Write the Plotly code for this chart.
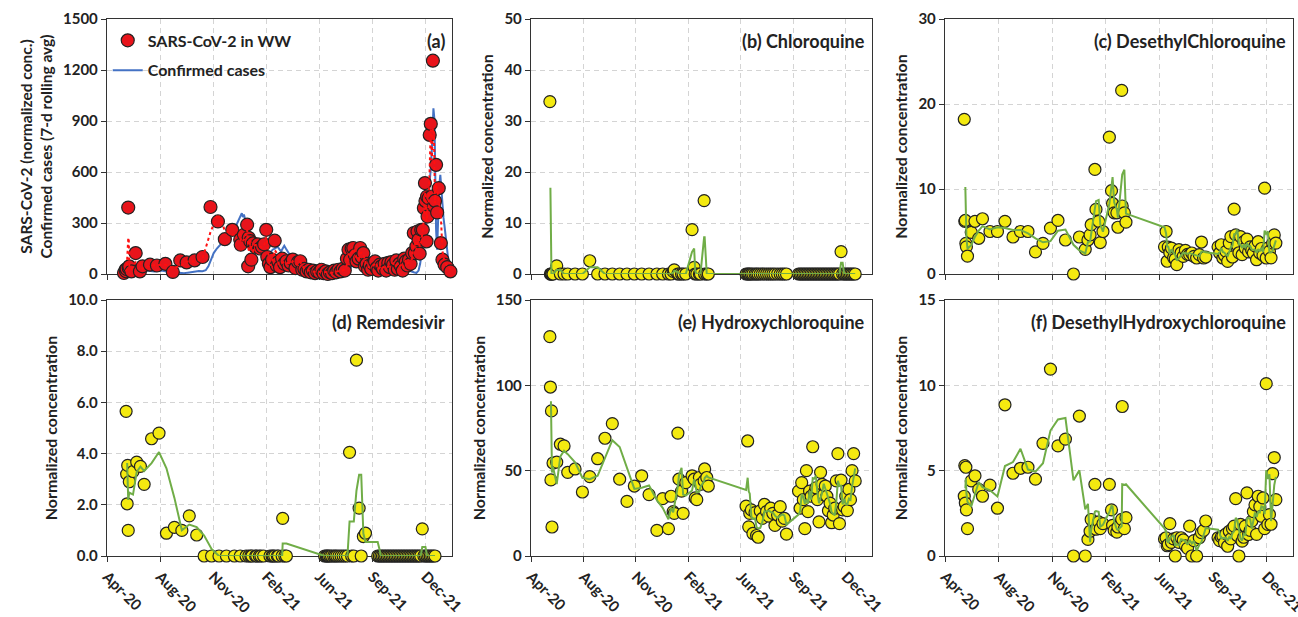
import pandas as pd
import plotly.graph_objects as go

# ---------------- x axis: days counted from the first tick (Apr-20) ----------------
START = "2020-04-28"
AXIS_DAYS = 650
TICK_DAYS = 100

# ---------------- panel (a) ----------------
WW_DAY = [32, 35, 36, 37, 40, 41, 42, 46, 54, 62, 67, 81, 94, 110, 124, 138, 150, 165, 180, 195,
          209, 222, 236, 251, 252, 258, 264, 266, 267, 270, 272, 275, 279, 284, 288, 292, 296, 300, 302, 305,
          308, 311, 316, 320, 323, 326, 330, 334, 338, 342, 346, 350, 355, 360, 364, 368, 372, 376, 380, 384,
          388, 392, 396, 400, 404, 408, 412, 416, 420, 424, 428, 432, 436, 440, 444, 448, 452, 455, 458, 461,
          464, 467, 470, 474, 477, 480, 483, 486, 489, 492, 495, 498, 501, 505, 508, 511, 514, 517, 520, 523,
          526, 530, 533, 536, 539, 542, 545, 548, 551, 554, 557, 560, 563, 566, 569, 572, 575, 578, 580, 583,
          585, 587, 589, 592, 595, 597, 599, 600, 602, 603, 604, 606, 608, 610, 612, 614, 616, 618, 620, 622,
          625, 629, 632, 636, 641, 647]
WW_VAL = [6, 25, 16, 29, 391, 35, 45, 15, 123, 15, 45, 55, 50, 60, 12, 80, 68, 80, 100, 394,
          309, 205, 260, 202, 172, 231, 290, 45, 213, 193, 84, 180, 161, 174, 150, 160, 175, 260, 100, 60,
          40, 85, 196, 50, 70, 40, 90, 60, 75, 50, 65, 85, 35, 70, 75, 25, 30, 15, 25, 10,
          20, 5, 15, 10, 25, 5, 15, 0, 10, 5, 20, 10, 25, 15, 30, 20, 90, 143, 84, 150,
          153, 110, 74, 90, 153, 100, 123, 45, 60, 25, 50, 30, 60, 74, 35, 20, 55, 45, 30, 60,
          20, 65, 40, 70, 55, 25, 80, 30, 60, 45, 20, 90, 74, 50, 84, 60, 123, 241, 123, 163,
          250, 202, 120, 260, 260, 388, 535, 430, 192, 456, 338, 446, 818, 883, 456, 1255, 400, 430, 642, 362,
          505, 182, 84, 55, 40, 15]

CASES_DAY = [34, 40, 47, 54, 61, 68, 75, 82, 89, 96, 103, 110, 117, 124, 131, 138, 145, 152, 159, 166,
             173, 180, 186, 191, 195, 201, 207, 214, 220, 227, 233, 239, 244, 249, 252, 254, 256, 258, 261, 264,
             268, 272, 277, 283, 290, 296, 302, 307, 312, 317, 321, 325, 328, 331, 334, 337, 340, 345, 350, 355,
             359, 365, 372, 380, 390, 397, 410, 420, 428, 440, 454, 457, 460, 466, 472, 479, 485, 491, 496, 501,
             505, 510, 516, 523, 529, 535, 542, 548, 555, 561, 567, 573, 578, 583, 587, 590, 593, 596, 599, 602,
             605, 608, 610, 612, 614, 615, 617, 618, 619, 620, 622, 624, 626, 628, 630, 632, 634, 636, 639, 642,
             645]
CASES_VAL = [10, 15, 20, 15, 18, 22, 20, 16, 15, 18, 20, 16, 14, 10, 8, 5, 4, 8, 12, 15,
             18, 16, 22, 45, 80, 123, 150, 172, 195, 220, 240, 260, 290, 320, 345, 358, 335, 350, 310, 275,
             240, 210, 182, 150, 123, 110, 104, 125, 143, 150, 162, 145, 133, 150, 166, 150, 133, 110, 84, 65,
             55, 45, 35, 25, 18, 16, 8, 4, 2, 4, 6, 20, 45, 84, 92, 94, 100, 104, 95, 88,
             75, 65, 55, 45, 45, 45, 50, 55, 50, 45, 30, 16, 10, 6, 20, 60, 125, 180, 260, 320,
             420, 515, 620, 730, 860, 975, 906, 700, 450, 260, 143, 397, 520, 583, 480, 397, 330, 280, 200, 84,
             25]

# ---------------- panels (b)-(f): shared sampling days ----------------
SAMPLE_DAY = [36, 37, 38, 39, 40, 42, 49, 56, 63, 70, 84, 98, 112, 127, 141, 155, 169, 183, 197, 211, 225, 240,
              251, 262, 267, 271, 273, 280, 282, 287, 290, 295, 307, 311, 313, 316, 321, 323, 330, 331, 335, 338,
              410, 413, 415, 417, 420, 423, 427, 430, 433, 437, 441, 445, 449, 453, 457, 461, 465, 470, 475, 479, 483, 487,
              510, 513, 516, 519, 522, 525, 528, 531, 534, 537, 540, 543, 546, 549, 552, 555, 558, 561, 564, 567,
              570, 573, 576, 579, 582, 585, 588, 591, 594, 597, 600, 603, 606, 609, 612, 615, 618]

CHLOROQUINE = [33.8, 0, 0, 0, 0, 0, 1.6, 0, 0, 0, 0, 0, 2.6, 0, 0, 0, 0, 0, 0, 0, 0, 0,
               0, 0, 0, 0.5, 0.8, 0, 0, 0, 0, 0, 8.7, 1.3, 0, 0, 0, 0, 14.4, 0, 0, 0,
               0, 0, 0, 0, 0, 0, 0, 0, 0, 0, 0, 0, 0, 0, 0, 0, 0, 0, 0, 0, 0, 0,
               0, 0, 0, 0, 0, 0, 0, 0, 0, 0, 0, 0, 0, 0, 0, 0, 0, 0, 0, 0,
               0, 0, 0, 0, 0, 0, 0, 4.4, 0, 0, 0, 0, 0, 0, 0, 0, 0]

DESETHYLCHLOROQUINE = [18.2, 6.2, 6.3, 3.6, 3.2, 2.1, 4.9, 6.2, 4.2, 6.5, 5.0, 5.0, 6.2, 4.35, 5.0, 5.0, 2.6, 3.6, 5.4, 6.3, 4.0, 0,
                       4.35, 2.9, 4.0, 4.6, 5.8, 12.3, 7.6, 6.2, 3.7, 5.0, 16.1, 9.8, 8.3, 7.2, 7.2, 5.5, 21.6, 8.0, 7.2, 6.1,
                       3.2, 5.0, 1.5, 3.17, 2.5, 3.05, 1.9, 1.76, 1.1, 2.86, 2.5, 2.08, 2.78, 2.3, 2.27, 2.47, 2.08, 1.88, 2.27, 3.76, 1.88, 2.0,
                       3.2, 2.47, 3.44, 1.88, 2.2, 2.66, 1.48, 3.64, 4.4, 2.0, 7.64, 4.6, 3.4, 2.5, 4.4, 2.27, 3.8, 3.05, 4.1, 2.6,
                       3.2, 2.8, 2.47, 3.3, 1.68, 3.8, 2.47, 3.0, 2.2, 10.1, 1.88, 3.05, 2.66, 1.9, 3.64, 4.6, 3.64]

REMDESIVIR = [5.65, 3.2, 2.04, 3.54, 1.0, 2.9, 3.3, 3.67, 3.5, 2.8, 4.58, 4.8, 0.89, 1.12, 1.0, 1.57, 0.82, 0, 0, 0, 0, 0,
              0, 0, 0, 0, 0, 0, 0, 0, 0, 0, 0, 0, 0, 0, 0, 0, 0, 1.47, 0, 0,
              0, 0, 0, 0, 0, 0, 0, 0, 0, 0, 0, 0, 0, 0, 4.05, 0, 0, 7.65, 1.87, 0, 0.76, 0.89,
              0, 0, 0, 0, 0, 0, 0, 0, 0, 0, 0, 0, 0, 0, 0, 0, 0, 0, 0, 0,
              0, 0, 0, 0, 0, 0, 0, 0, 1.06, 0, 0, 0, 0, 0, 0, 0, 0]

HYDROXYCHLOROQUINE = [128.5, 99, 44.6, 85, 17, 54.5, 55, 65.5, 64.5, 49, 51, 37.5, 46.5, 57, 69, 77.6, 45, 32, 41, 47, 36, 15,
                      33.6, 16, 35, 26, 25, 72, 45, 38, 25, 43, 47, 45, 34, 33, 46, 42, 44, 51, 46, 41,
                      29.2, 67.4, 17.1, 25, 27, 13.2, 25.4, 12, 11, 26.4, 22, 30.2, 26, 23.4, 28, 25, 17.9, 24, 28.9, 20.4, 22, 12.8,
                      38, 28, 43, 33, 16, 50, 26, 38, 35, 64, 37, 40, 33, 20, 49, 42, 36, 41, 35, 26.5,
                      31, 19.5, 24, 28, 44, 60, 19, 44.5, 27, 29, 35, 26.6, 39, 33, 50, 60, 44]

DESETHYLHYDROXYCHLOROQUINE = [3.5, 5.3, 3.1, 5.2, 2.7, 1.6, 4.4, 4.7, 3.9, 3.5, 4.15, 2.8, 8.86, 4.85, 5.14, 5.2, 4.5, 6.6, 10.95, 6.45, 6.85, 0,
                              8.2, 0, 0.97, 1.45, 2.14, 4.2, 1.57, 2.0, 1.6, 1.9, 4.2, 2.7, 1.8, 1.5, 1.4, 1.7, 2.15, 8.76, 1.6, 2.25,
                              1.0, 1.07, 0.6, 0.67, 1.9, 0.8, 1.0, 0, 1.07, 0.8, 1.07, 0.94, 0.6, 0.45, 1.75, 0, 0.9, 0, 1.07, 1.37, 1.5, 2.05,
                              1.07, 0.9, 1.12, 1.17, 0.77, 1.3, 0.57, 1.45, 1.0, 1.6, 1.75, 3.36, 1.2, 0, 1.85, 0.87, 1.1, 1.75, 3.7, 1.26,
                              1.5, 2.04, 2.6, 3.0, 1.27, 3.5, 2.9, 2.33, 3.4, 1.6, 10.1, 1.85, 2.43, 1.86, 4.83, 5.77, 3.3]

PANEL_LABELS = ["(a)", "(b) Chloroquine", "(c) DesethylChloroquine", "(d) Remdesivir",
                "(e) Hydroxychloroquine", "(f) DesethylHydroxychloroquine"]
Y_MAX = [1500, 50, 30, 10, 150, 15]
Y_STEP = [300, 10, 10, 2, 50, 5]
MA_WINDOW = [2, 2, 3, 3, 3, 3]

# ---------------- styling ----------------
FONT = "Lato"
TXT = "#222222"
YELLOW = "#F4EA10"
RED = "#E8141B"
GREEN = "#70AD47"
BLUE = "#4472C4"
W, H = 1298, 617
COLS = [(107, 452), (531, 872), (945, 1293)]
ROWS = [(19, 274), (300, 556)]

t0 = pd.Timestamp(START)


def to_dates(days):
    return [t0 + pd.Timedelta(days=d) for d in days]


def ax(i, kind):
    return kind if i == 0 else f"{kind}{i + 1}"


fig = go.Figure()

# panel (a)
fig.add_trace(go.Scatter(x=to_dates(CASES_DAY), y=CASES_VAL, mode="lines",
                         line=dict(color=BLUE, width=2), name="Confirmed cases",
                         legendrank=2, legendgroup="g2", xaxis="x", yaxis="y", cliponaxis=False))
fig.add_trace(go.Scatter(x=to_dates(WW_DAY), y=WW_VAL, mode="markers",
                         marker=dict(size=13, color=RED, line=dict(color="#222222", width=1.2)),
                         name="SARS-CoV-2 in WW", legendrank=1, legendgroup="g1",
                         xaxis="x", yaxis="y", cliponaxis=False))
fig.add_trace(go.Scatter(x=to_dates(WW_DAY), y=pd.Series(WW_VAL).rolling(MA_WINDOW[0]).mean(),
                         mode="lines", line=dict(color="#FF1010", width=2, dash="dot"),
                         showlegend=False, xaxis="x", yaxis="y"))

# panels (b)-(f)
series = [CHLOROQUINE, DESETHYLCHLOROQUINE, REMDESIVIR, HYDROXYCHLOROQUINE, DESETHYLHYDROXYCHLOROQUINE]
sample_dates = to_dates(SAMPLE_DAY)
for k, vals in enumerate(series):
    i = k + 1
    fig.add_trace(go.Scatter(x=sample_dates, y=vals, mode="markers",
                             marker=dict(size=12, color=YELLOW, line=dict(color="#222222", width=1.2)),
                             showlegend=False, xaxis=ax(i, "x"), yaxis=ax(i, "y"), cliponaxis=False))
    fig.add_trace(go.Scatter(x=sample_dates, y=pd.Series(vals).rolling(MA_WINDOW[i]).mean(),
                             mode="lines", line=dict(color=GREEN, width=2),
                             showlegend=False, xaxis=ax(i, "x"), yaxis=ax(i, "y")))

layout = dict(
    width=W, height=H, margin=dict(l=0, r=0, t=0, b=0),
    paper_bgcolor="white", plot_bgcolor="white", template="none",
    font=dict(family=FONT, color=TXT),
    showlegend=True,
    legend=dict(x=0.083, y=0.962, xanchor="left", yanchor="top", bgcolor="rgba(0,0,0,0)",
                font=dict(family=FONT, size=16, color=TXT, weight="bold"),
                traceorder="grouped", tracegroupgap=6, itemwidth=30),
)

annotations = []
for i in range(6):
    r, c = divmod(i, 3)
    x0, x1 = COLS[c]
    y0, y1 = ROWS[r]
    xname, yname = ax(i, "xaxis"), ax(i, "yaxis")
    layout[xname] = dict(
        domain=[x0 / W, x1 / W], anchor=ax(i, "y"), type="date",
        range=[t0, t0 + pd.Timedelta(days=AXIS_DAYS)],
        tick0=START, dtick=TICK_DAYS * 86400000, tickformat="%b-%y", tickangle=45,
        showticklabels=(r == 1), ticklabeloverflow="allow",
        tickfont=dict(family=FONT, size=15, color=TXT, weight="bold"),
        showgrid=True, gridcolor="#D4D4D4", griddash="5px,4px", gridwidth=1,
        showline=True, linecolor="#333333", linewidth=1.4, mirror=True,
        ticks="outside", ticklen=5, tickcolor="#333333",
        zeroline=False, layer="below traces", automargin=False,
    )
    ytitle = ("SARS-CoV-2 (normalized conc.)<br>Confirmed cases (7-d rolling avg)"
              if i == 0 else "Normalized concentration")
    layout[yname] = dict(
        domain=[1 - y1 / H, 1 - y0 / H], anchor=ax(i, "x"),
        range=[0, Y_MAX[i]], dtick=Y_STEP[i], tick0=0,
        tickformat=".1f" if i == 3 else "d",
        tickfont=dict(family=FONT, size=15, color=TXT, weight="bold"),
        title=dict(text=ytitle, standoff=6,
                   font=dict(family=FONT, size=15.5 if i == 0 else 16, color=TXT, weight="bold")),
        showgrid=True, gridcolor="#D4D4D4", griddash="5px,4px", gridwidth=1,
        showline=True, linecolor="#333333", linewidth=1.4, mirror=True,
        ticks="outside", ticklen=5, tickcolor="#333333",
        zeroline=False, layer="below traces", automargin=False,
    )
    annotations.append(dict(
        text=PANEL_LABELS[i], xref=f"{ax(i, 'x')} domain", yref=f"{ax(i, 'y')} domain",
        x=0.985, y=0.965, xanchor="right", yanchor="top", showarrow=False,
        font=dict(family=FONT, size=18, color=TXT, weight="bold"),
    ))

layout["annotations"] = annotations
fig.update_layout(**layout)
fig.write_html("out.html")
